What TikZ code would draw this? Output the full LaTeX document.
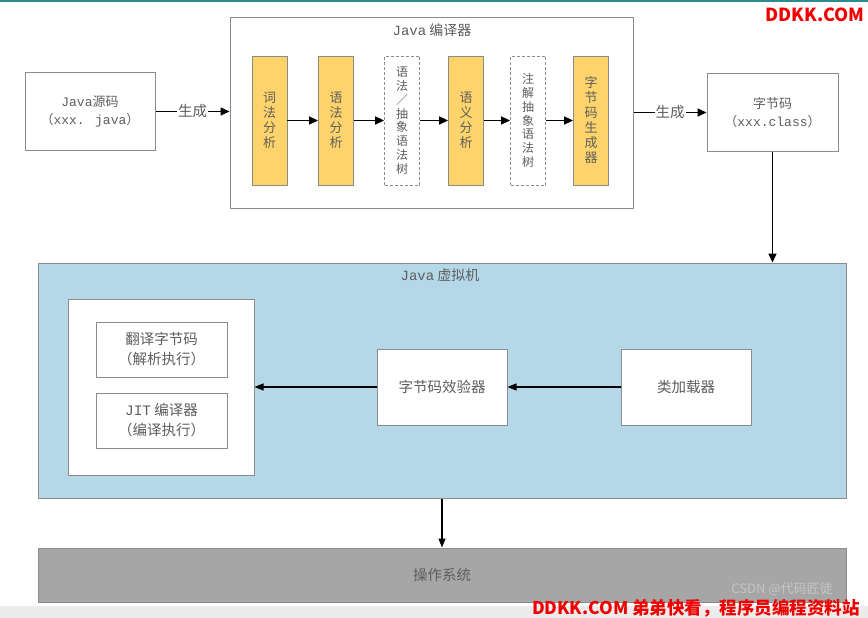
\documentclass[tikz,border=0pt]{standalone}
\usepackage{fontspec}
\setmainfont{Noto Sans CJK SC}
\newfontfamily\lat{Liberation Mono}
\usetikzlibrary{arrows.meta}
\definecolor{txt}{HTML}{5E5E5E}
\definecolor{bord}{HTML}{8C8C8C}
\definecolor{ylw}{HTML}{FDD36B}
\definecolor{jvmblue}{HTML}{B4D8E8}
\definecolor{osgray}{HTML}{A6A6A6}
\definecolor{teal}{HTML}{2E8B8B}
\definecolor{wmred}{HTML}{F00000}
\tikzset{
  box/.style={draw=bord, line width=1pt, fill=white, text=txt, align=center, inner sep=0pt,
    font=\fontsize{14.5}{20}\selectfont},
  sbox/.style={draw=bord, line width=1pt, fill=white, text=txt, align=center, inner sep=0pt,
    font=\fontsize{13}{18}\selectfont},
  ybox/.style={draw=bord, line width=0.8pt, fill=ylw, text=txt, align=center, inner sep=0pt,
    minimum width=35pt, minimum height=129pt, font=\fontsize{13}{15}\selectfont},
  dbox/.style={draw=bord, line width=0.8pt, dash pattern=on 3pt off 2pt, fill=white, text=txt, align=center, inner sep=0pt,
    minimum width=35pt, minimum height=129pt, font=\fontsize{12}{13.8}\selectfont},
  arr/.style={draw=black, line width=1.6pt, -{Triangle[length=9pt,width=8pt]}},
  tarr/.style={draw=black, line width=1.1pt, -{Triangle[length=9pt,width=7pt]}},
  lbl/.style={fill=white, text=txt, inner sep=1pt, font=\fontsize{14.5}{16}\selectfont},
  ttl/.style={text=txt, font=\fontsize{14}{16}\selectfont, inner sep=0pt}
}
\begin{document}
\begin{tikzpicture}[x=1pt,y=-1pt]
\useasboundingbox (0,0) rectangle (868,618);
\fill[white] (0,0) rectangle (868,618);
\fill[teal] (0,0) rectangle (868,2);
\fill[gray!15] (0,606) rectangle (868,618);

% compiler
\node[sbox, minimum width=130pt, minimum height=77pt] (src) at (90,111.5) {{\lat Java}源码\\（{\lat xxx. java}）};
\node[draw=bord, line width=1pt, fill=white, minimum width=403pt, minimum height=190pt, inner sep=0pt] (cf) at (431.5,113) {};
\node[ttl] (cft) at (432,30) {{\lat Java} 编译器};
\node[ybox] (y1) at (269.5,120.5) {词\\法\\分\\析};
\node[ybox] (y2) at (336,120.5) {语\\法\\分\\析};
\node[dbox] (d1) at (402,120.5) {语\\法\\／\\抽\\象\\语\\法\\树};
\node[ybox] (y3) at (466,120.5) {语\\义\\分\\析};
\node[dbox] (d2) at (528,120.5) {注\\解\\抽\\象\\语\\法\\树};
\node[ybox] (y4) at (591,120.5) {字\\节\\码\\生\\成\\器};
\node[sbox, minimum width=131pt, minimum height=77pt] (cls) at (772.5,112.5) {字节码\\（{\lat xxx.class}）};

\draw[arr] (src.east) -- node[lbl]{生成} (src.east -| cf.west);
\draw[arr] (y1) -- (y2);
\draw[arr] (y2) -- (d1);
\draw[arr] (d1) -- (y3);
\draw[arr] (y3) -- (d2);
\draw[arr] (d2) -- (y4);
\draw[arr] (cf.east |- cls.west) -- node[lbl]{生成} (cls.west);

% JVM
\node[draw=bord, line width=1pt, fill=jvmblue, minimum width=808pt, minimum height=235pt, inner sep=0pt] (jvm) at (442,380.5) {};
\draw[arr] (cls.south) -- (cls.south |- jvm.north);
\node[ttl] (jvmt) at (440,275) {{\lat Java} 虚拟机};
\node[box, minimum width=186pt, minimum height=176pt] (wb) at (161,387) {};
\node[box, minimum width=131pt, minimum height=55pt] (tr) at (161.5,349.5) {翻译字节码\\（解析执行）};
\node[box, minimum width=131pt, minimum height=55pt] (jit) at (161.5,420.5) {{\lat JIT} 编译器\\（编译执行）};
\node[box, minimum width=130pt, minimum height=76pt] (ver) at (442,387) {字节码效验器};
\node[box, minimum width=130pt, minimum height=76pt] (ld) at (686,387) {类加载器};
\draw[tarr] (ld.west) -- (ver.east);
\draw[tarr] (ver.west) -- (wb.east |- ver.west);

% OS
\node[draw=bord, line width=1pt, fill=osgray, text=txt, minimum width=808pt, minimum height=54pt, inner sep=0pt,
  font=\fontsize{14.5}{16}\selectfont] (os) at (442,575) {操作系统};
\draw[tarr] (jvm.south -| os.north) -- (os.north);

% watermarks
\node[text=gray!45, font=\fontsize{13}{15}\selectfont, inner sep=0pt] (csdn) at (782,589) {CSDN @代码匠徒};
\node[text=wmred, font=\bfseries\fontsize{18}{20}\selectfont, inner sep=0pt] (wm1) at (815,15) {DDKK.COM};
\node[text=wmred, font=\bfseries\fontsize{17.5}{20}\selectfont, inner sep=0pt] (wm2) at (696,608) {DDKK.COM 弟弟快看，程序员编程资料站};
\end{tikzpicture}
\end{document}
